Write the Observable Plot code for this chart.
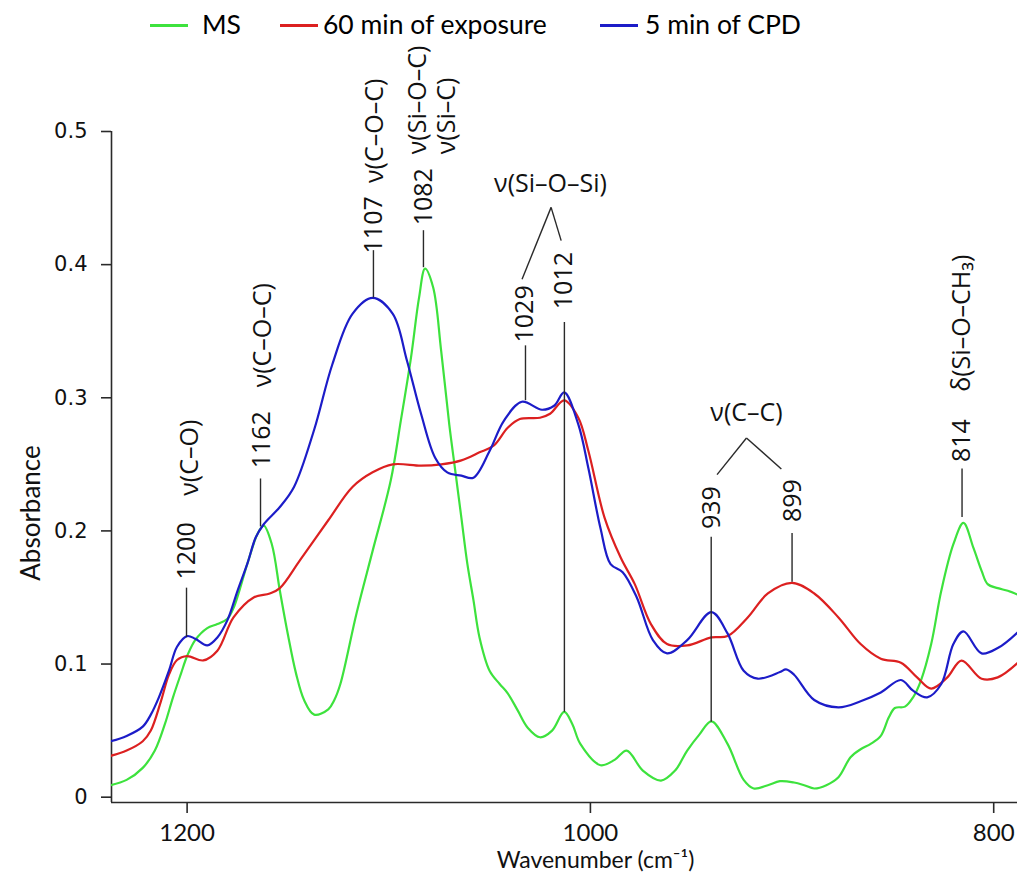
<!DOCTYPE html>
<html><head><meta charset="utf-8">
<script src="https://cdn.jsdelivr.net/npm/d3@7"></script>
<script src="https://cdn.jsdelivr.net/npm/@observablehq/plot@0.6"></script>
<style>
body{margin:0;background:#fff;}
#legend{position:relative;width:1017px;height:40px;font-family:Lato,sans-serif;font-size:26.5px;color:#000;}
.sw{position:absolute;top:24px;height:3px;width:38px;}
.lt{position:absolute;top:9px;line-height:30px;white-space:nowrap;}
#chart svg{display:block;}
</style></head><body>
<div id="legend"></div>
<div id="chart"></div>
<script>
// ---- series ----
const seriesNames = ["MS", "60 min of exposure", "5 min of CPD"];
const seriesColors = ["#3de23d", "#dc2020", "#1c1cc8"];

const msWavenumber = [1238,1230,1222,1216,1211,1207,1203,1200,1196,1190,1185,1180,1177,1170,1165,1162,1158,1154,1150,1146,1142,1137,1130,1127,1124,1116,1108,1099,1094,1089,1085,1082,1078,1074,1070,1067,1064,1061,1058,1055,1050,1045,1041,1036,1031,1025,1019,1013,1009,1005,995,988,982,974,965,958,952,946,940,932,924,919,912,906,899,894,889,883,877,871,866,861,856,852,849,844,840,836,831,826,820,815,810,806,803,798,793,788];
const msAbsorbance = [0.009,0.013,0.022,0.035,0.055,0.075,0.093,0.106,0.118,0.127,0.130,0.134,0.142,0.176,0.198,0.204,0.190,0.155,0.122,0.093,0.073,0.062,0.066,0.073,0.085,0.138,0.185,0.238,0.283,0.330,0.375,0.397,0.383,0.335,0.280,0.245,0.210,0.175,0.148,0.120,0.095,0.085,0.078,0.065,0.052,0.045,0.050,0.064,0.055,0.040,0.024,0.028,0.035,0.020,0.0125,0.020,0.035,0.047,0.057,0.040,0.013,0.0065,0.009,0.012,0.011,0.009,0.0065,0.009,0.015,0.030,0.036,0.040,0.046,0.060,0.067,0.068,0.075,0.088,0.115,0.155,0.190,0.206,0.187,0.170,0.160,0.157,0.155,0.152];

const expWavenumber = [1238,1230,1222,1218,1213,1209,1205,1200,1192,1185,1177,1167,1159,1154,1144,1130,1118,1108,1098,1084,1074,1064,1055,1048,1041,1035,1025,1020,1013,1006,1001,993,985,978,970,962,952,940,932,922,912,900,889,877,866,856,846,838,831,823,816,806,798,788];
const expAbsorbance = [0.031,0.035,0.042,0.050,0.072,0.092,0.103,0.106,0.1027,0.110,0.135,0.150,0.153,0.157,0.178,0.208,0.233,0.244,0.250,0.249,0.250,0.253,0.259,0.264,0.2775,0.284,0.285,0.288,0.298,0.285,0.260,0.210,0.180,0.160,0.130,0.115,0.114,0.120,0.121,0.135,0.153,0.161,0.153,0.135,0.115,0.104,0.101,0.090,0.0816,0.090,0.1026,0.089,0.090,0.101];

const cpdWavenumber = [1238,1230,1222,1218,1214,1209,1205,1200,1196,1190,1185,1180,1175,1170,1166,1162,1154,1147,1137,1128,1118,1108,1098,1091,1084,1077,1071,1064,1058,1050,1043,1034,1024,1018,1013,1006,1001,995,990,984,977,969,962,952,940,932,924,917,906,903,899,889,877,866,856,846,840,833,826,820,815,806,798,788];
const cpdAbsorbance = [0.042,0.046,0.053,0.062,0.075,0.095,0.113,0.121,0.119,0.114,0.120,0.133,0.155,0.176,0.195,0.205,0.218,0.233,0.276,0.325,0.363,0.375,0.363,0.328,0.288,0.255,0.244,0.2415,0.240,0.260,0.2825,0.297,0.291,0.294,0.304,0.280,0.247,0.202,0.175,0.169,0.150,0.118,0.108,0.118,0.139,0.123,0.095,0.089,0.094,0.096,0.092,0.073,0.0675,0.072,0.0786,0.088,0.080,0.075,0.085,0.115,0.1245,0.108,0.112,0.124];

// ---- axes ----
const xTicks = [1200, 1000, 800];
const xTickLabels = ["1200", "1000", "800"];
const yTicks = [0, 0.1, 0.2, 0.3, 0.4, 0.5];
const yTickLabels = ["0", "0.1", "0.2", "0.3", "0.4", "0.5"];
const xLabel = "Wavenumber (cm\u207B\u00B9)";
const yLabel = "Absorbance";

// ---- peak annotations ----
const peakLabels = ["1200","1162","1107","1082","1029","1012","939","899","814"];
const peakLabelX = [1200, 1162.8, 1107.3, 1082.6, 1032.5, 1012.9, 939.5, 899.7, 815.6];
const peakLabelY = [0.185, 0.2685, 0.4299, 0.451, 0.363, 0.388, 0.2175, 0.2227, 0.2678];
const leaderX  = [1200.3, 1163.6, 1107.6, 1082.8, 1032.2, 1012.9, 940.1, 900.0, 815.7];
const leaderY1 = [0.120, 0.203, 0.375, 0.3977, 0.2978, 0.0638, 0.0563, 0.1614, 0.210];
const leaderY2 = [0.157, 0.239, 0.4105, 0.4255, 0.339, 0.3566, 0.1952, 0.198, 0.2465];

const bandLabels = ["\u03BD(C\u2013O)", "\u03BD(C\u2013O\u2013C)", "\u03BD(C\u2013O\u2013C)", "\u03BD(Si\u2013O\u2013C)", "\u03BD(Si\u2013C)", "\u03B4(Si\u2013O\u2013CH\u2083)"];
const bandX = [1198.4, 1162.2, 1106.9, 1085.3, 1070.9, 815.6];
const bandY = [0.255, 0.347, 0.5005, 0.5237, 0.5117, 0.356];

const groupLabels = ["\u03BD(Si\u2013O\u2013Si)", "\u03BD(C\u2013C)"];
const groupX = [1019.8, 922.6];
const groupY = [0.4606, 0.2886];
const apexX = [1019.5, 922.6], apexY = [0.443, 0.2698];
const legLeftX = [1033.9, 937.2], legLeftY = [0.389, 0.2423];
const legRightX = [1014.5, 905.3], legRightY = [0.418, 0.2465];

// ---- build tables ----
const seriesWn = [msWavenumber, expWavenumber, cpdWavenumber];
const seriesAbs = [msAbsorbance, expAbsorbance, cpdAbsorbance];
const rows = seriesNames.flatMap((s, k) => seriesWn[k].map((w, i) => ({series: s, wn: w, abs: seriesAbs[k][i]})));
const legs = groupLabels.flatMap((g, i) => [
  {x1: apexX[i], y1: apexY[i], x2: legLeftX[i], y2: legLeftY[i]},
  {x1: apexX[i], y1: apexY[i], x2: legRightX[i], y2: legRightY[i]}
]);
const idx = a => a.map((_, i) => i);

const xDomain = [1237.5, 788.2];
const yDomain = [-0.004, 0.5];
const ink = "#2a2a2a";
const annFont = "Open Sans";
const annSize = 25;

const chart = Plot.plot({
  width: 1017, height: 834,
  marginLeft: 111, marginRight: 0, marginTop: 91, marginBottom: 72,
  style: {background: "white", overflow: "visible"},
  x: {domain: xDomain, axis: null},
  y: {domain: yDomain, axis: null},
  color: {domain: seriesNames, range: seriesColors},
  marks: [
    Plot.ruleY([yDomain[0]], {stroke: ink, strokeWidth: 1.6}),
    Plot.ruleX([xDomain[0]], {y1: yDomain[0], y2: yTicks[yTicks.length - 1], stroke: ink, strokeWidth: 1.6}),
    Plot.axisX(xTicks, {anchor: "bottom", tickSize: 11, tickPadding: 10, stroke: ink, strokeWidth: 1.6, fill: "#111", fontSize: 24, fontFamily: "Lato", tickFormat: d => xTickLabels[xTicks.indexOf(d)], label: null}),
    Plot.axisY(yTicks, {anchor: "left", tickSize: 10, tickPadding: 14, stroke: ink, strokeWidth: 1.6, fill: "#111", fontSize: 21, fontFamily: "DejaVu Sans", tickFormat: d => yTickLabels[yTicks.indexOf(d)], label: null}),
    Plot.text([xLabel], {frameAnchor: "bottom", lineAnchor: "middle", dx: 31, dy: 58, fontSize: 23, fontFamily: "Lato", fill: "#111", textAnchor: "middle"}),
    Plot.text([yLabel], {frameAnchor: "left", lineAnchor: "middle", dx: -80, dy: 46, rotate: -90, fontSize: 26, fontFamily: "Lato", fill: "#111", textAnchor: "middle"}),
    Plot.line(rows, {x: "wn", y: "abs", z: "series", stroke: "series", strokeWidth: 2.2, curve: "catmull-rom", clip: true}),
    Plot.ruleX(idx(peakLabels), {x: i => leaderX[i], y1: i => leaderY1[i], y2: i => leaderY2[i], stroke: ink, strokeWidth: 1.4}),
    Plot.link(legs, {x1: "x1", y1: "y1", x2: "x2", y2: "y2", stroke: ink, strokeWidth: 1.4}),
    Plot.text(idx(peakLabels), {x: i => peakLabelX[i], y: i => peakLabelY[i], text: i => peakLabels[i], rotate: -90, textAnchor: "middle", lineAnchor: "middle", fontSize: annSize, fontFamily: annFont, fill: "#111"}),
    Plot.text(idx(bandLabels), {x: i => bandX[i], y: i => bandY[i], text: i => bandLabels[i], rotate: -90, textAnchor: "middle", lineAnchor: "middle", fontSize: annSize, fontFamily: annFont, fill: "#111"}),
    Plot.text(idx(groupLabels), {x: i => groupX[i], y: i => groupY[i], text: i => groupLabels[i], textAnchor: "middle", lineAnchor: "middle", fontSize: annSize, fontFamily: annFont, fill: "#111"})
  ]
});
document.getElementById("chart").appendChild(chart);

// ---- legend (HTML, above the SVG) ----
const legend = document.getElementById("legend");
const swLeft = [150, 280, 600], txtLeft = [202, 323, 645];
seriesNames.forEach((s, i) => {
  const sw = document.createElement("div");
  sw.className = "sw"; sw.style.left = swLeft[i] + "px"; sw.style.background = seriesColors[i];
  const t = document.createElement("div");
  t.className = "lt"; t.style.left = txtLeft[i] + "px"; t.textContent = s;
  legend.appendChild(sw); legend.appendChild(t);
});
</script></body></html>
